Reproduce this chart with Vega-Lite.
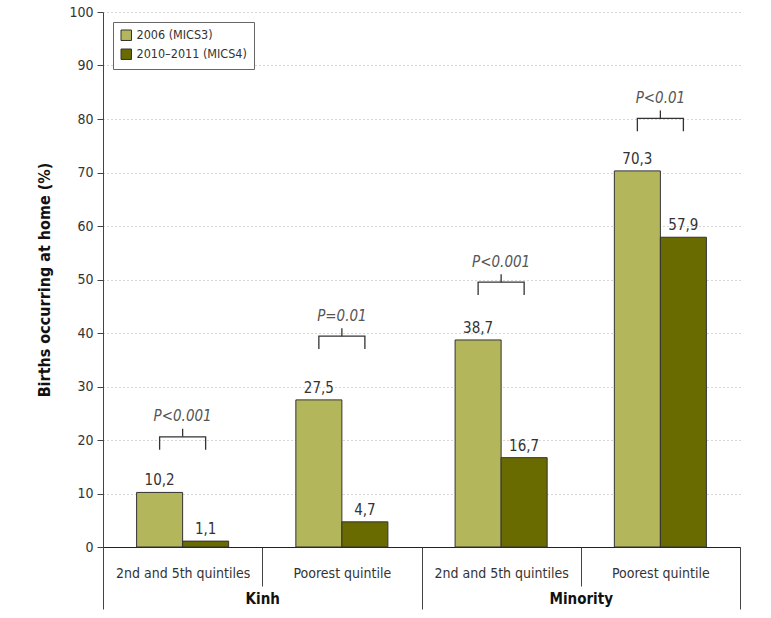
{
  "$schema": "https://vega.github.io/schema/vega-lite/v6.json",
  "width": 637,
  "height": 535,
  "padding": {"left": 36, "top": 5, "right": 5, "bottom": 5},
  "background": "white",
  "config": {
    "font": "DejaVu Sans Condensed, Liberation Sans, sans-serif",
    "view": {"stroke": null},
    "axis": {"labelColor": "#333", "titleColor": "#111", "domainColor": "#444", "tickColor": "#444"},
    "legend": {"orient": "top-left", "offset": 10, "fillColor": "white", "strokeColor": "#666", "padding": 7, "labelFontSize": 12.5, "labelColor": "#333", "symbolType": "square", "symbolSize": 110, "symbolStrokeColor": "#333", "symbolStrokeWidth": 1, "rowPadding": 4, "title": null}
  },
  "datasets": {
    "bars": [
      {"group": "Kinh", "cat": "Kinh: 2nd and 5th quintiles", "period": "2006 (MICS3)", "value": 10.2, "label": "10,2"},
      {"group": "Kinh", "cat": "Kinh: 2nd and 5th quintiles", "period": "2010–2011 (MICS4)", "value": 1.1, "label": "1,1"},
      {"group": "Kinh", "cat": "Kinh: Poorest quintile", "period": "2006 (MICS3)", "value": 27.5, "label": "27,5"},
      {"group": "Kinh", "cat": "Kinh: Poorest quintile", "period": "2010–2011 (MICS4)", "value": 4.7, "label": "4,7"},
      {"group": "Minority", "cat": "Minority: 2nd and 5th quintiles", "period": "2006 (MICS3)", "value": 38.7, "label": "38,7"},
      {"group": "Minority", "cat": "Minority: 2nd and 5th quintiles", "period": "2010–2011 (MICS4)", "value": 16.7, "label": "16,7"},
      {"group": "Minority", "cat": "Minority: Poorest quintile", "period": "2006 (MICS3)", "value": 70.3, "label": "70,3"},
      {"group": "Minority", "cat": "Minority: Poorest quintile", "period": "2010–2011 (MICS4)", "value": 57.9, "label": "57,9"}
    ],
    "bracketLines": [
      {"cat": "Kinh: 2nd and 5th quintiles", "period": "2006 (MICS3)", "y": 18.2, "o": 1},
      {"cat": "Kinh: 2nd and 5th quintiles", "period": "2006 (MICS3)", "y": 20.6, "o": 2},
      {"cat": "Kinh: 2nd and 5th quintiles", "period": "2010–2011 (MICS4)", "y": 20.6, "o": 3},
      {"cat": "Kinh: 2nd and 5th quintiles", "period": "2010–2011 (MICS4)", "y": 18.2, "o": 4},
      {"cat": "Kinh: Poorest quintile", "period": "2006 (MICS3)", "y": 37.0, "o": 1},
      {"cat": "Kinh: Poorest quintile", "period": "2006 (MICS3)", "y": 39.4, "o": 2},
      {"cat": "Kinh: Poorest quintile", "period": "2010–2011 (MICS4)", "y": 39.4, "o": 3},
      {"cat": "Kinh: Poorest quintile", "period": "2010–2011 (MICS4)", "y": 37.0, "o": 4},
      {"cat": "Minority: 2nd and 5th quintiles", "period": "2006 (MICS3)", "y": 47.1, "o": 1},
      {"cat": "Minority: 2nd and 5th quintiles", "period": "2006 (MICS3)", "y": 49.5, "o": 2},
      {"cat": "Minority: 2nd and 5th quintiles", "period": "2010–2011 (MICS4)", "y": 49.5, "o": 3},
      {"cat": "Minority: 2nd and 5th quintiles", "period": "2010–2011 (MICS4)", "y": 47.1, "o": 4},
      {"cat": "Minority: Poorest quintile", "period": "2006 (MICS3)", "y": 77.7, "o": 1},
      {"cat": "Minority: Poorest quintile", "period": "2006 (MICS3)", "y": 80.1, "o": 2},
      {"cat": "Minority: Poorest quintile", "period": "2010–2011 (MICS4)", "y": 80.1, "o": 3},
      {"cat": "Minority: Poorest quintile", "period": "2010–2011 (MICS4)", "y": 77.7, "o": 4}
    ],
    "pvals": [
      {"cat": "Kinh: 2nd and 5th quintiles", "h": 20.6, "top": 22.1, "ty": 24.4, "p": "P<0.001"},
      {"cat": "Kinh: Poorest quintile", "h": 39.4, "top": 40.9, "ty": 43.1, "p": "P=0.01"},
      {"cat": "Minority: 2nd and 5th quintiles", "h": 49.5, "top": 51.0, "ty": 53.3, "p": "P<0.001"},
      {"cat": "Minority: Poorest quintile", "h": 80.1, "top": 81.6, "ty": 84.0, "p": "P<0.01"}
    ],
    "groups": [
      {"group": "Kinh"},
      {"group": "Minority"}
    ]
  },
  "layer": [
    {
      "layer": [
        {
          "data": {"name": "bars"},
          "mark": {"type": "bar", "stroke": "#333", "strokeWidth": 1},
          "encoding": {
            "x": {"field": "cat", "type": "nominal", "sort": null,
              "scale": {"paddingInner": 0, "paddingOuter": 0},
              "axis": {"title": null, "orient": "bottom", "labelAngle": 0, "tickBand": "extent", "tickSize": 39, "labelPadding": -20, "labelFontSize": 14, "labelExpr": "split(datum.label, ': ')[1]", "domainColor": "#222", "domainWidth": 1.2}},
            "xOffset": {"field": "period", "type": "nominal", "scale": {"paddingInner": 0, "paddingOuter": 0.73}},
            "y": {"field": "value", "type": "quantitative", "title": "Births occurring at home (%)",
              "scale": {"domain": [0, 100], "nice": false},
              "axis": {"values": [0, 10, 20, 30, 40, 50, 60, 70, 80, 90, 100], "grid": true, "gridDash": [1, 3], "gridColor": "#aaa", "tickSize": 6, "labelFontSize": 14, "labelPadding": 4, "titleFontSize": 16, "titleFontWeight": "bold", "titlePadding": 16}},
            "color": {"field": "period", "type": "nominal", "scale": {"domain": ["2006 (MICS3)", "2010–2011 (MICS4)"], "range": ["#b4b65c", "#696b00"]}, "legend": {}}
          }
        },
        {
          "data": {"name": "bars"},
          "mark": {"type": "text", "baseline": "bottom", "dy": -4, "fontSize": 15, "color": "#333"},
          "encoding": {
            "x": {"field": "cat", "type": "nominal", "sort": null},
            "xOffset": {"field": "period", "type": "nominal"},
            "y": {"field": "value", "type": "quantitative", "title": "Births occurring at home (%)"},
            "text": {"field": "label"}
          }
        },
        {
          "data": {"name": "bracketLines"},
          "mark": {"type": "line", "color": "#333", "strokeWidth": 1.3},
          "encoding": {
            "x": {"field": "cat", "type": "nominal", "sort": null},
            "xOffset": {"field": "period", "type": "nominal"},
            "y": {"field": "y", "type": "quantitative", "title": "Births occurring at home (%)"},
            "detail": {"field": "cat"},
            "order": {"field": "o"}
          }
        },
        {
          "data": {"name": "pvals"},
          "mark": {"type": "rule", "color": "#333", "strokeWidth": 1.3},
          "encoding": {
            "x": {"field": "cat", "type": "nominal", "sort": null},
            "y": {"field": "h", "type": "quantitative", "title": "Births occurring at home (%)"},
            "y2": {"field": "top"}
          }
        },
        {
          "data": {"name": "pvals"},
          "mark": {"type": "text", "baseline": "middle", "fontSize": 15, "fontStyle": "italic", "color": "#555"},
          "encoding": {
            "x": {"field": "cat", "type": "nominal", "sort": null},
            "y": {"field": "ty", "type": "quantitative", "title": "Births occurring at home (%)"},
            "text": {"field": "p"}
          }
        }
      ]
    },
    {
      "data": {"name": "groups"},
      "mark": {"type": "rule", "opacity": 0},
      "encoding": {
        "x": {"field": "group", "type": "nominal", "sort": null,
          "scale": {"paddingInner": 0, "paddingOuter": 0},
          "axis": {"title": null, "orient": "bottom", "labelAngle": 0, "tickBand": "extent", "tickSize": 62, "labelPadding": -18, "labelFontSize": 15, "labelFontWeight": "bold", "labelColor": "#111", "domain": false}}
      }
    }
  ],
  "resolve": {"scale": {"x": "independent", "xOffset": "independent"}, "axis": {"x": "independent"}}
}
